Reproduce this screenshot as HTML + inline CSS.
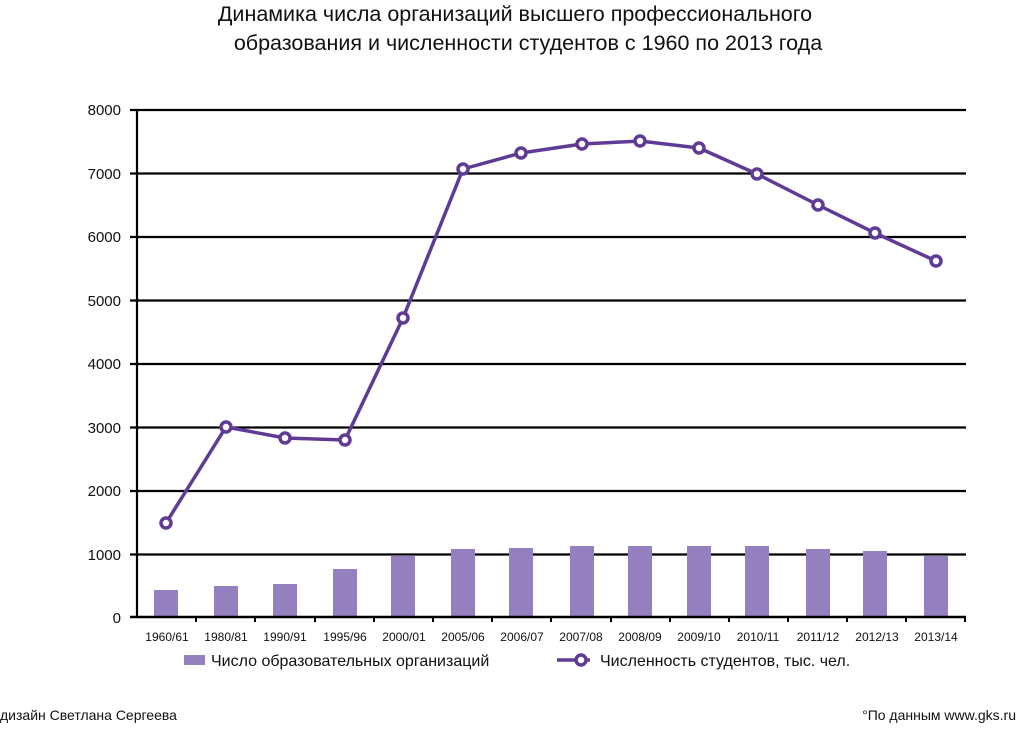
<!DOCTYPE html>
<html><head><meta charset="utf-8"><style>
html,body{margin:0;padding:0;background:#fff;}
svg{display:block;font-family:"Liberation Sans","DejaVu Sans",sans-serif;}
</style></head><body>
<svg width="1018" height="735" viewBox="0 0 1018 735" xmlns="http://www.w3.org/2000/svg">
<text x="515" y="21" font-size="21.5" text-anchor="middle" fill="#111">Динамика числа организаций высшего профессионального</text>
<text x="528" y="50" font-size="21.5" text-anchor="middle" fill="#111">образования и численности студентов с 1960 по 2013 года</text>
<g stroke="#000" stroke-width="2.2">
<line x1="130" y1="110" x2="966" y2="110"/>
<line x1="130" y1="173.5" x2="966" y2="173.5"/>
<line x1="130" y1="237" x2="966" y2="237"/>
<line x1="130" y1="300.5" x2="966" y2="300.5"/>
<line x1="130" y1="364" x2="966" y2="364"/>
<line x1="130" y1="427.5" x2="966" y2="427.5"/>
<line x1="130" y1="491" x2="966" y2="491"/>
<line x1="130" y1="554.5" x2="966" y2="554.5"/>
<line x1="137" y1="110" x2="137" y2="617"/>
</g>
<g font-size="15" text-anchor="end" fill="#111">
<text x="121" y="115">8000</text><text x="121" y="179">7000</text><text x="121" y="242">6000</text>
<text x="121" y="306">5000</text><text x="121" y="369">4000</text><text x="121" y="433">3000</text>
<text x="121" y="496">2000</text><text x="121" y="560">1000</text><text x="121" y="623">0</text>
</g>
<g fill="#9580bf">
<rect x="154" y="590" width="24" height="27"/>
<rect x="214" y="586" width="24" height="31"/>
<rect x="273" y="584" width="24" height="33"/>
<rect x="333" y="569" width="24" height="48"/>
<rect x="391" y="556" width="24" height="61"/>
<rect x="451" y="549" width="24" height="68"/>
<rect x="509" y="548" width="24" height="69"/>
<rect x="570" y="546" width="24" height="71"/>
<rect x="628" y="546" width="24" height="71"/>
<rect x="687" y="546" width="24" height="71"/>
<rect x="745" y="546" width="24" height="71"/>
<rect x="806" y="549" width="24" height="68"/>
<rect x="863" y="551" width="24" height="66"/>
<rect x="924" y="556" width="24" height="61"/>
</g>
<line x1="130" y1="617" x2="966" y2="617" stroke="#000" stroke-width="2.5"/>
<g stroke="#000" stroke-width="2">
<line x1="196" y1="617" x2="196" y2="622"/><line x1="255" y1="617" x2="255" y2="622"/>
<line x1="315" y1="617" x2="315" y2="622"/><line x1="374" y1="617" x2="374" y2="622"/>
<line x1="433" y1="617" x2="433" y2="622"/><line x1="492" y1="617" x2="492" y2="622"/>
<line x1="551" y1="617" x2="551" y2="622"/><line x1="611" y1="617" x2="611" y2="622"/>
<line x1="670" y1="617" x2="670" y2="622"/><line x1="729" y1="617" x2="729" y2="622"/>
<line x1="788" y1="617" x2="788" y2="622"/><line x1="847" y1="617" x2="847" y2="622"/>
<line x1="906" y1="617" x2="906" y2="622"/><line x1="965" y1="617" x2="965" y2="622"/>
</g>
<g font-size="12" text-anchor="middle" fill="#111">
<text x="167" y="641">1960/61</text><text x="226" y="641">1980/81</text><text x="285" y="641">1990/91</text>
<text x="345" y="641">1995/96</text><text x="404" y="641">2000/01</text><text x="463" y="641">2005/06</text>
<text x="522" y="641">2006/07</text><text x="581" y="641">2007/08</text><text x="640" y="641">2008/09</text>
<text x="699" y="641">2009/10</text><text x="758" y="641">2010/11</text><text x="818" y="641">2011/12</text>
<text x="877" y="641">2012/13</text><text x="936" y="641">2013/14</text>
</g>
<polyline fill="none" stroke="#5f3b95" stroke-width="3.5" stroke-linejoin="round"
points="166,523 226,427 285,438 345,440 403,318 463,169 521,153 582,144 640,141 699,148 757,174 818,205 875,233 936,261"/>
<g fill="#fff" stroke="#5f3b95" stroke-width="3.5">
<circle cx="166" cy="523" r="5"/><circle cx="226" cy="427" r="5"/><circle cx="285" cy="438" r="5"/>
<circle cx="345" cy="440" r="5"/><circle cx="403" cy="318" r="5"/><circle cx="463" cy="169" r="5"/>
<circle cx="521" cy="153" r="5"/><circle cx="582" cy="144" r="5"/><circle cx="640" cy="141" r="5"/>
<circle cx="699" cy="148" r="5"/><circle cx="757" cy="174" r="5"/><circle cx="818" cy="205" r="5"/>
<circle cx="875" cy="233" r="5"/><circle cx="936" cy="261" r="5"/>
</g>
<rect x="184" y="655" width="21" height="10" fill="#9580bf"/>
<text x="211" y="666" font-size="16" fill="#111">Число образовательных организаций</text>
<line x1="557" y1="660" x2="590" y2="660" stroke="#5f3b95" stroke-width="3.5"/>
<circle cx="581" cy="660" r="5" fill="#fff" stroke="#5f3b95" stroke-width="3.5"/>
<text x="600" y="666" font-size="16" fill="#111">Численность студентов, тыс. чел.</text>
<text x="0" y="720" font-size="14" fill="#111">дизайн Светлана Сергеева</text>
<text x="1016" y="720" font-size="14" text-anchor="end" fill="#111">°По данным www.gks.ru</text>
</svg>
</body></html>
